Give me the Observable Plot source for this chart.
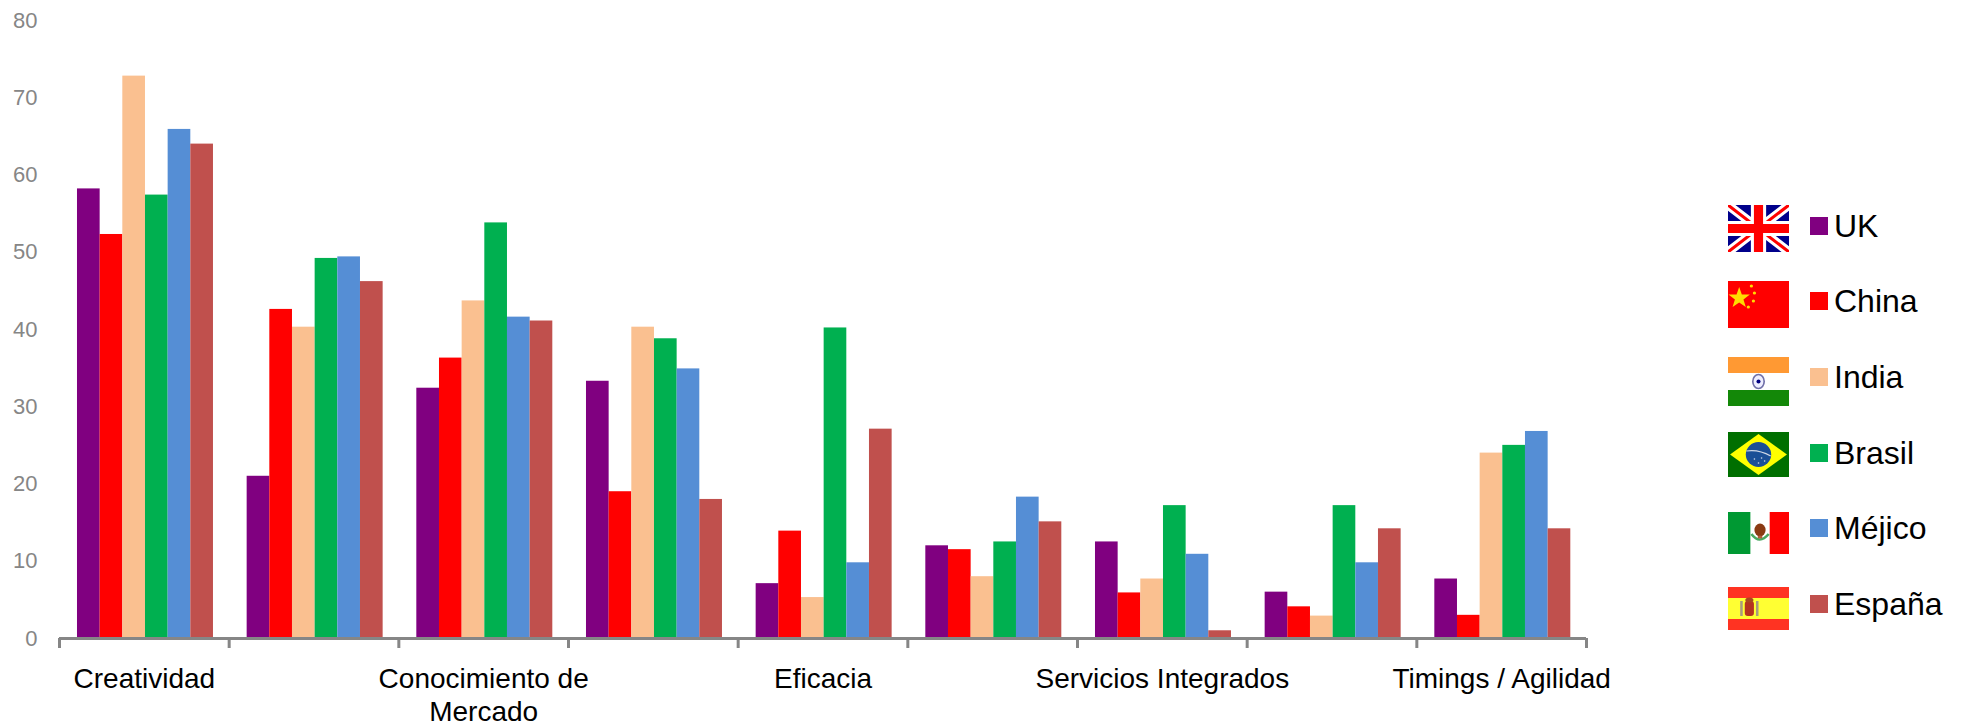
<!DOCTYPE html>
<html lang="es">
<head>
<meta charset="utf-8">
<script src="https://cdn.jsdelivr.net/npm/d3@7"></script>
<script src="https://cdn.jsdelivr.net/npm/@observablehq/plot@0.6"></script>
<style>
  html, body { margin: 0; background: #fff; }
  #chart { position: relative; width: 1966px; height: 727px; overflow: hidden; font-family: "Liberation Sans", Arial, sans-serif; }
  #chart svg.plot { display: block; background: #fff; }
  .key { position: absolute; left: 0; top: 0; }
  .flag { position: absolute; left: 1728px; width: 61px; }
  .swatch { position: absolute; left: 1810px; width: 18px; height: 18px; }
  .name { position: absolute; left: 1834px; font-size: 32px; line-height: 36px; color: #000; white-space: nowrap; }
</style>
</head>
<body>
<div id="chart"></div>
<script>
// Attributes, in axis order. Only every other attribute carries a printed label.
const attributes = ["Creatividad", "", "Conocimiento de\nMercado", "", "Eficacia", "", "Servicios Integrados", "", "Timings / Agilidad"];

const countries = ["UK", "China", "India", "Brasil", "Méjico", "España"];
const colors = ["#800080", "#ff0000", "#fac090", "#00b050", "#558ed5", "#c0504d"];

// Percentages per country, one value per attribute.
const uk     = [58.2, 21.0, 32.4, 33.3,  7.1, 12.0, 12.5,  6.0,  7.7];
const china  = [52.3, 42.6, 36.3, 19.0, 13.9, 11.5,  5.9,  4.1,  3.0];
const india  = [72.8, 40.3, 43.7, 40.3,  5.3,  8.0,  7.7,  2.9, 24.0];
const brasil = [57.4, 49.2, 53.8, 38.8, 40.2, 12.5, 17.2, 17.2, 25.0];
const mejico = [65.9, 49.4, 41.6, 34.9,  9.8, 18.3, 10.9,  9.8, 26.8];
const espana = [64.0, 46.2, 41.1, 18.0, 27.1, 15.1,  1.0, 14.2, 14.2];
const seriesValues = [uk, china, india, brasil, mejico, espana];

// Bars sit side by side inside each unit-wide attribute band.
const groupStart = 0.106;
const groupEnd = 0.9075;
const barWidth = (groupEnd - groupStart) / countries.length;

const rows = seriesValues.flatMap((values, s) =>
  values.map((value, a) => ({
    country: countries[s],
    value,
    x1: a + groupStart + s * barWidth,
    x2: a + groupStart + (s + 1) * barWidth
  }))
);

const labels = attributes.map((text, a) => ({ text, x: a + 0.5 })).filter(d => d.text);
const axisGray = "#868686";

const plot = Plot.plot({
  width: 1966,
  height: 727,
  marginLeft: 59,
  marginRight: 380,
  marginTop: 20,
  marginBottom: 89,
  style: { fontFamily: '"Liberation Sans", Arial, sans-serif', background: "#fff", overflow: "visible" },
  x: { type: "linear", domain: [0, attributes.length] },
  y: { domain: [0, 80] },
  color: { domain: countries, range: colors },
  marks: [
    Plot.rectY(rows, { x1: "x1", x2: "x2", y1: 0, y2: "value", fill: "country" }),
    Plot.axisY({
      ticks: d3.range(0, 81, 10),
      tickSize: 0,
      tickPadding: 22,
      fontSize: 22,
      fill: axisGray,
      label: null
    }),
    Plot.ruleY([0], { stroke: axisGray, strokeWidth: 3 }),
    Plot.axisX({
      ticks: d3.range(0, attributes.length + 1),
      tickSize: 10,
      tickFormat: () => "",
      stroke: axisGray,
      strokeWidth: 3,
      label: null
    }),
    Plot.text(labels, {
      x: "x",
      y: 0,
      text: "text",
      dy: 27,
      lineAnchor: "top",
      lineHeight: 1.15,
      fontSize: 28,
      fill: "#000"
    })
  ]
});

// Small flags shown next to each legend entry.
const flags = {
  UK: `<rect width="60" height="47" fill="#00008b"/>
       <path d="M0 0L60 47M60 0L0 47" stroke="#fff" stroke-width="9"/>
       <path d="M0 0L60 47M60 0L0 47" stroke="#f00" stroke-width="3"/>
       <path d="M30 0V47M0 23.5H60" stroke="#fff" stroke-width="15"/>
       <path d="M30 0V47M0 23.5H60" stroke="#f00" stroke-width="9"/>`,
  China: `<rect width="60" height="47" fill="#f00"/>
       <polygon fill="#fd0" points="11,5 13.6,12.6 21.5,12.6 15.2,17.4 17.5,25 11,20.4 4.5,25 6.8,17.4 0.5,12.6 8.4,12.6" transform="translate(0 1)"/>
       <g fill="#fd0"><circle cx="23" cy="5" r="1.6"/><circle cx="26" cy="12" r="1.6"/><circle cx="25" cy="20" r="1.6"/><circle cx="20" cy="26" r="1.6"/></g>`,
  India: `<rect width="60" height="49" fill="#fff"/>
       <rect width="60" height="16" fill="#ff9933"/>
       <rect y="33" width="60" height="16" fill="#138808"/>
       <ellipse cx="30" cy="24.5" rx="5.6" ry="7" fill="#eef" stroke="#7070a8" stroke-width="1.6"/>
       <circle cx="30" cy="24.5" r="2" fill="#000080"/>`,
  Brasil: `<rect width="60" height="45" fill="#006f00"/>
       <polygon points="30,2 58,22.5 30,43 2,22.5" fill="#ff0"/>
       <circle cx="30" cy="22.5" r="12.5" fill="#1a4f96"/>
       <path d="M18 19Q30 17 42 24" fill="none" stroke="#cfd8e6" stroke-width="1.2"/>
       <g fill="#cfd8e6"><circle cx="26" cy="27" r="0.8"/><circle cx="33" cy="26" r="0.8"/><circle cx="30" cy="31" r="0.8"/><circle cx="36" cy="29" r="0.8"/></g>`,
  "Méjico": `<rect width="60" height="42" fill="#fff"/>
       <rect width="22" height="42" fill="#009933"/>
       <rect x="41" width="19" height="42" fill="#f00"/>
       <ellipse cx="31.5" cy="18" rx="5.5" ry="6.5" fill="#8a3a12"/>
       <path d="M23 22Q31 33 40 22" fill="none" stroke="#4aa860" stroke-width="2.5"/>
       <ellipse cx="31.5" cy="25" rx="2.5" ry="1.5" fill="#b35a3a"/>`,
  "España": `<rect width="60" height="43" fill="#ff3322"/>
       <rect y="11" width="60" height="21" fill="#ffff33"/>
       <rect x="16.5" y="14" width="9" height="15" rx="3" fill="#b5331f"/>
       <rect x="12" y="14" width="2.5" height="15" fill="#a89a80"/>
       <rect x="27.5" y="14" width="2.5" height="15" fill="#a89a80"/>
       <ellipse cx="21" cy="13" rx="4" ry="2.6" fill="#a8471f"/>`
};

// Vertical placement of each legend row: flag top, flag height, swatch top.
const flagTops = [205, 281, 357, 432, 512, 587];
const flagHeights = [47, 47, 49, 45, 42, 43];
const swatchTops = [217, 292, 368, 444, 519, 595];

const chart = document.getElementById("chart");
chart.appendChild(plot);

const key = document.createElement("div");
key.className = "key";
key.innerHTML = countries.map((name, i) => `
  <svg class="flag" viewBox="0 0 60 ${flagHeights[i]}" preserveAspectRatio="none"
       style="top:${flagTops[i]}px;height:${flagHeights[i]}px">${flags[name]}</svg>
  <div class="swatch" style="top:${swatchTops[i]}px;background:${colors[i]}"></div>
  <div class="name" style="top:${swatchTops[i] - 9}px">${name}</div>`).join("");
chart.appendChild(key);
</script>
</body>
</html>
